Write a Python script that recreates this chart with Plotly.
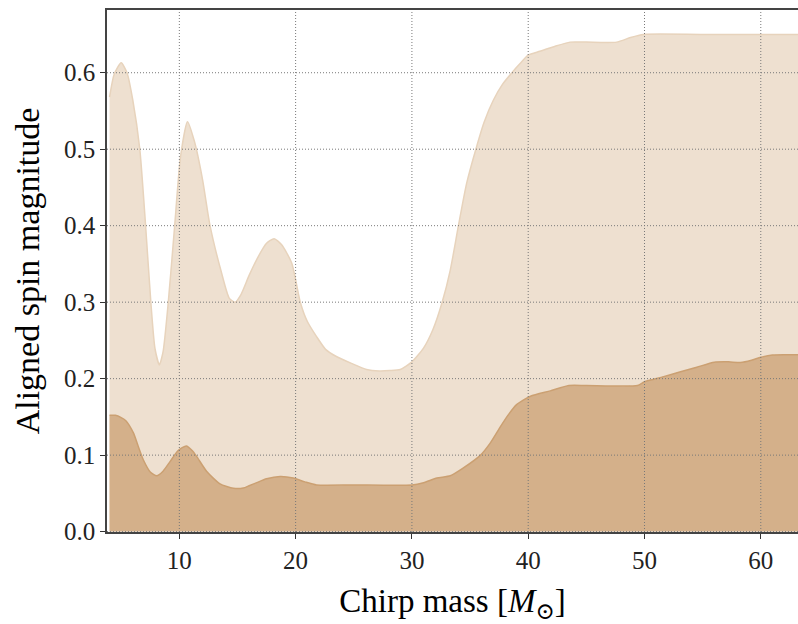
import plotly.graph_objects as go

# Upper (lighter) band edge
upper_x = [4.0, 4.4, 5.0, 5.5, 6.0, 6.6, 7.1, 7.55, 7.9, 8.28, 8.6, 9.05, 9.6, 10.1, 10.7,
           11.3, 12.0, 12.64, 13.6, 14.3, 14.8, 15.3, 16.0, 16.8, 17.5, 18.15, 18.8, 19.67,
           20.4, 21.0, 21.8, 22.6, 23.5, 24.8, 26.1, 27.2, 28.1, 29.0, 30.0, 31.0, 31.8,
           32.6, 33.3, 34.0, 34.7, 35.5, 36.2, 37.0, 37.8, 38.6, 39.3, 40.0, 41.0, 42.2,
           43.6, 45.0, 47.6, 48.8, 49.9, 55.0, 60.0, 64.0]
upper_y = [0.568, 0.598, 0.613, 0.600, 0.564, 0.500, 0.400, 0.300, 0.240, 0.218, 0.235, 0.300,
           0.400, 0.490, 0.536, 0.510, 0.460, 0.400, 0.340, 0.305, 0.300, 0.310, 0.335, 0.360,
           0.377, 0.383, 0.375, 0.351, 0.300, 0.275, 0.255, 0.238, 0.229, 0.220, 0.212, 0.210,
           0.2105, 0.212, 0.222, 0.240, 0.264, 0.300, 0.342, 0.400, 0.455, 0.500, 0.535, 0.564,
           0.585, 0.600, 0.612, 0.623, 0.628, 0.634, 0.640, 0.640, 0.640, 0.646, 0.650, 0.650,
           0.650, 0.650]

# Lower (darker) band edge
lower_x = [4.0, 4.5, 5.0, 5.4, 6.05, 6.5, 6.9, 7.5, 8.05, 8.6, 9.2, 9.9, 10.6, 11.1, 11.5,
           12.36, 13.5, 14.65, 15.5, 16.0, 16.66, 17.5, 18.67, 19.8, 20.8, 21.8, 25.0, 30.0,
           31.0, 32.15, 33.3, 34.4, 35.9, 36.7, 37.6, 38.3, 39.0, 40.2, 41.9, 43.5, 45.0,
           49.4, 50.0, 51.5, 53.1, 54.5, 56.0, 57.2, 58.25, 59.2, 60.0, 61.0, 64.0]
lower_y = [0.152, 0.152, 0.149, 0.145, 0.129, 0.110, 0.094, 0.078, 0.073, 0.079, 0.0915, 0.106,
           0.112, 0.106, 0.098, 0.0785, 0.0624, 0.0567, 0.057, 0.060, 0.064, 0.069, 0.072,
           0.070, 0.065, 0.061, 0.061, 0.061, 0.064, 0.070, 0.073, 0.083, 0.100, 0.115, 0.137,
           0.153, 0.166, 0.177, 0.184, 0.191, 0.191, 0.191, 0.196, 0.202, 0.209, 0.215, 0.2215,
           0.222, 0.221, 0.224, 0.228, 0.231, 0.231]

x_ticks = [10, 20, 30, 40, 50, 60]
y_ticks = [0.0, 0.1, 0.2, 0.3, 0.4, 0.5, 0.6]
y_tick_labels = ["0.0", "0.1", "0.2", "0.3", "0.4", "0.5", "0.6"]

x_range = [3.78, 63.2]
y_range = [-0.0005, 0.682]

light = "rgb(238,224,208)"
light_line = "rgb(231,211,188)"
dark = "rgb(212,176,138)"
dark_line = "rgb(203,160,114)"

fig = go.Figure()
fig.add_trace(go.Scatter(x=upper_x, y=upper_y, mode="lines", fill="tozeroy",
                         fillcolor=light, line=dict(color=light_line, width=1.5,
                                                    shape="spline", smoothing=0.6),
                         hoverinfo="skip", showlegend=False))
fig.add_trace(go.Scatter(x=lower_x, y=lower_y, mode="lines", fill="tozeroy",
                         fillcolor=dark, line=dict(color=dark_line, width=1.5,
                                                   shape="spline", smoothing=0.6),
                         hoverinfo="skip", showlegend=False))

grid_style = dict(color="rgb(120,120,120)", width=1, dash="1px,2px")
for xv in x_ticks:
    fig.add_shape(type="line", xref="x", yref="paper", x0=xv, x1=xv, y0=0, y1=1,
                  line=grid_style, layer="above")
for yv in y_ticks:
    fig.add_shape(type="line", xref="paper", yref="y", x0=0, x1=1, y0=yv, y1=yv,
                  line=grid_style, layer="above")

font_family = "Liberation Serif, DejaVu Serif, serif"
fig.update_layout(
    width=798, height=624,
    margin=dict(l=107, r=0, t=10, b=92),
    paper_bgcolor="white", plot_bgcolor="white",
    font=dict(family=font_family, color="black"),
    xaxis=dict(range=x_range, tickvals=x_ticks, ticks="outside", ticklen=5, tickwidth=1.2,
               tickcolor="#333", showgrid=False, zeroline=False, showline=True,
               linecolor="#444", linewidth=1.5, mirror=True,
               tickfont=dict(size=25, family=font_family, color="#222"),
               title=dict(text="Chirp mass [<i>M</i><sub>⊙</sub>]",
                          font=dict(size=33, family=font_family), standoff=18)),
    yaxis=dict(range=y_range, tickvals=y_ticks, ticktext=y_tick_labels, ticks="outside",
               ticklen=5, tickwidth=1.2, tickcolor="#333", showgrid=False, zeroline=False,
               showline=True, linecolor="#444", linewidth=1.5,
               tickfont=dict(size=25, family=font_family, color="#222"),
               title=dict(text="Aligned spin magnitude",
                          font=dict(size=34, family=font_family), standoff=14)),
)

fig.write_html("out.html")
